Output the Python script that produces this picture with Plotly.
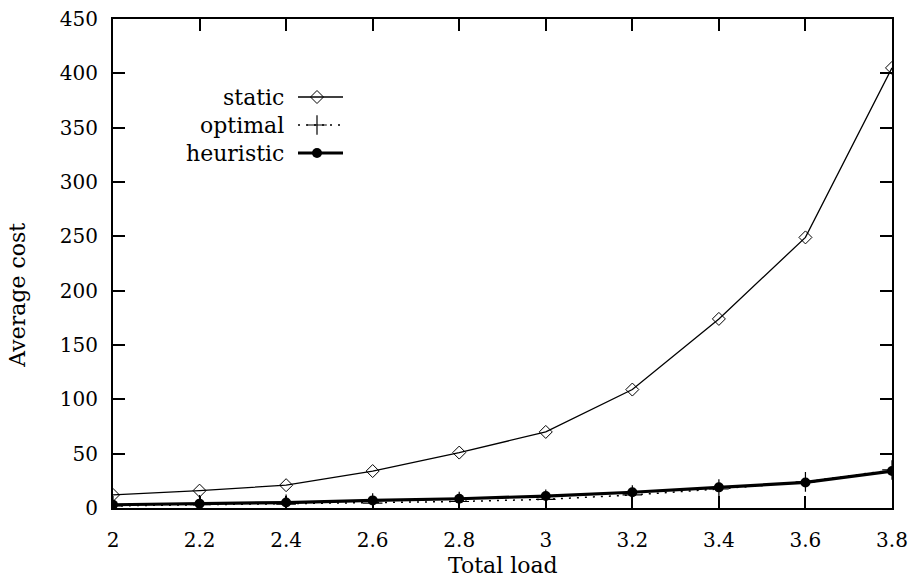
import plotly.graph_objects as go

load = [2.0, 2.2, 2.4, 2.6, 2.8, 3.0, 3.2, 3.4, 3.6, 3.8]
static = [12, 16, 21, 34, 51, 70, 109, 174, 249, 405]
optimal = [2, 3, 3.5, 4.5, 6, 8, 12, 17.5, 24, 35]
heuristic = [3, 4, 5, 7, 8.5, 11, 14.5, 19, 23.5, 34]
names = ["static", "optimal", "heuristic"]
xticks = [2, 2.2, 2.4, 2.6, 2.8, 3, 3.2, 3.4, 3.6, 3.8]
xticklabels = ["2", "2.2", "2.4", "2.6", "2.8", "3", "3.2", "3.4", "3.6", "3.8"]
yticks = [0, 50, 100, 150, 200, 250, 300, 350, 400, 450]

FONT = "DejaVu Serif"
FS = 20
FT = 22
styles = [
    dict(line=dict(color="black", width=1.3),
         marker=dict(symbol="diamond-open", size=10, color="black", line=dict(width=1))),
    dict(line=dict(color="black", width=1.5, dash="2px,6px"),
         marker=dict(symbol="cross-thin", size=14, color="black", line=dict(width=1.2, color="black"))),
    dict(line=dict(color="black", width=3.2),
         marker=dict(symbol="circle", size=10, color="black")),
]

fig = go.Figure()
for name, vals, st in zip(names, [static, optimal, heuristic], styles):
    fig.add_trace(go.Scatter(x=load, y=vals, mode="lines+markers", name=name,
                             line=st["line"], marker=st["marker"], showlegend=False))

# custom legend (text right-aligned, sample on the right) in pixel-like overlay axes
leg_y = [411, 383, 355]
for name, yy, st in zip(names, leg_y, styles):
    fig.add_trace(go.Scatter(x=[185, 230], y=[yy, yy], mode="lines", line=st["line"],
                             xaxis="x2", yaxis="y2", showlegend=False, hoverinfo="skip"))
    fig.add_trace(go.Scatter(x=[204], y=[yy], mode="markers", marker=st["marker"],
                             xaxis="x2", yaxis="y2", showlegend=False, hoverinfo="skip"))
    fig.add_annotation(x=173, y=yy, xref="x2", yref="y2", text=name, showarrow=False,
                       xanchor="right", yanchor="middle", font=dict(family=FONT, size=FT, color="black"))

# axis titles
fig.add_annotation(x=0.5, y=-0.117, xref="paper", yref="paper", text="Total load", showarrow=False,
                   xanchor="center", yanchor="middle", font=dict(family=FONT, size=FT, color="black"))
fig.add_annotation(x=-0.122, y=0.436, xref="paper", yref="paper", text="Average cost", showarrow=False,
                   textangle=-90, xanchor="center", yanchor="middle",
                   font=dict(family=FONT, size=FT, color="black"))

axis_common = dict(showgrid=False, zeroline=False, showline=True, linecolor="black", linewidth=2,
                   mirror="allticks", ticks="inside", ticklen=12, tickwidth=1.5, tickcolor="black",
                   automargin=False, ticklabeloverflow="allow",
                   tickfont=dict(family=FONT, size=FS, color="black"))
fig.update_layout(
    width=910, height=579,
    margin=dict(l=113, r=18, t=19, b=71),
    paper_bgcolor="white", plot_bgcolor="white",
    xaxis=dict(range=[2, 3.8], tickvals=xticks, ticktext=xticklabels, ticklabelstandoff=13,
               **axis_common),
    yaxis=dict(range=[0, 450], tickvals=yticks, ticklabelstandoff=9,
               **axis_common),
    xaxis2=dict(range=[0, 779], overlaying="x", visible=False, fixedrange=True),
    yaxis2=dict(range=[0, 489], overlaying="y", visible=False, fixedrange=True),
    showlegend=False,
)
fig.write_html("out.html", config={"displayModeBar": False},
               post_script="document.body.style.margin='0';document.body.style.overflow='hidden';")
